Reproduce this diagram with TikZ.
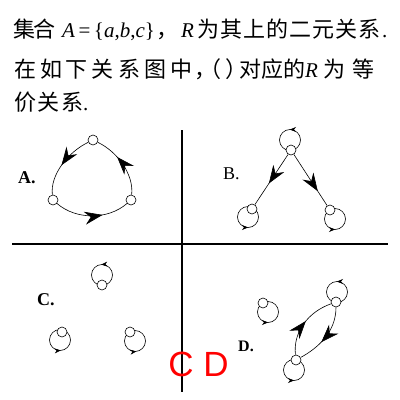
\documentclass[tikz,border=0pt]{standalone}
\usepackage{fontspec}
\setmainfont{Liberation Serif}
\newfontfamily\cjk{Noto Sans CJK SC}
\newfontfamily\redfont{Liberation Sans}
\usetikzlibrary{arrows.meta,decorations.markings,calc,backgrounds}
\begin{document}
\begin{tikzpicture}[x=1pt,y=-1pt,
  vtx/.style={circle,draw,fill=white,inner sep=0pt,minimum size=10pt,line width=0.6pt},
  edgeline/.style={line width=0.6pt},
  bigtip/.style={postaction={decorate},decoration={markings,mark=at position #1 with {\arrow{Stealth[length=18pt,width=13pt,inset=6pt]}}}},
  loopc/.style={line width=0.6pt,postaction={decorate},decoration={markings,mark=at position #1 with {\arrowreversed{Stealth[length=6pt,width=5pt]}}}},
  cj/.style={anchor=base,inner sep=0pt,font=\cjk\fontsize{22}{22}\selectfont},
  rm/.style={anchor=base west,inner sep=0pt,font=\fontsize{21}{21}\selectfont},
  lab/.style={anchor=base west,inner sep=0pt,font=\fontsize{18}{18}\selectfont\bfseries},
  divider/.style={line width=1.3pt},
]
\useasboundingbox (0,0) rectangle (400,400);

% ---- text ----
\foreach \x/\c in {24/集,45/合,167/，,208.5/为,231.5/其,254.5/上,277.5/的,300.5/二,323.5/元,346.5/关,369.5/系}
  \node[cj] at (\x,37) {\c};
\node[rm] (mathA) at (62,37) {\textit{A}\,=\,\{\textit{a},\textit{b},\textit{c}\}};
\node[rm] (r1) at (181,37) {\textit{R}};
\node[rm] (dot1) at (382,37) {.};

\foreach \x/\c in {25/在,51/如,77/下,103/关,129/系,155/图,181/中,205/，,210/（,236.5/）,250/对,272/应,294/的,334/为,363/等}
  \node[cj] at (\x,77) {\c};
\node[rm] (r2) at (305,77) {\textit{R}};

\foreach \x/\c in {25/价,48.5/关,72/系}
  \node[cj] at (\x,110.5) {\c};
\node[rm] (dot3) at (83,110.5) {.};

% ---- dividers ----
\coordinate (hl) at (12,244);
\coordinate (hr) at (388,244);
\coordinate (vt) at (182,130);
\coordinate (vb) at (182,392);
\draw[divider] (hl) -- (hr);
\draw[divider] (vt) -- (vb);

% ---- labels ----
\node[lab] (labA) at (18,183) {A.};
\node[lab,font=\fontsize{18}{18}\selectfont] (labB) at (223,179) {B.};
\node[lab] (labC) at (37,305) {C.};
\node[lab,font=\fontsize{16}{16}\selectfont\bfseries] (labD) at (238,351) {D.};

% ---- panel A ----
\node[vtx] (aT) at (93,140) {};
\node[vtx] (aL) at (53,200) {};
\node[vtx] (aR) at (131,200) {};
\draw[edgeline,bigtip=0.53] (aT) .. controls ($(aT)+(-25,12)$) and ($(aL)+(-3,-25)$) .. (aL);
\draw[edgeline,bigtip=0.64] (aL) .. controls ($(aL)+(23,20)$) and ($(aR)+(-23,20)$) .. (aR);
\draw[edgeline,bigtip=0.63] (aR) .. controls ($(aR)+(3,-25)$) and ($(aT)+(25,12)$) .. (aT);

% ---- panel B ----
\node[vtx] (bT) at (291,150) {};
\node[vtx] (bL) at (252,209) {};
\node[vtx] (bR) at (330,210) {};
\draw[edgeline,bigtip=0.58] (bT) -- (bL);
\draw[edgeline,bigtip=0.72] (bT) -- (bR);

% ---- panel C ----
\node[vtx] (cT) at (102,285) {};
\node[vtx] (cL) at (62,332) {};
\node[vtx] (cR) at (130,332) {};

% ---- panel D ----
\node[vtx] (dI) at (263,303) {};
\node[vtx] (dT) at (336,302) {};
\node[vtx] (dB) at (296,360) {};
\draw[edgeline,bigtip=0.54] (dB) .. controls ($(dB)+(-3,-28)$) and ($(dT)+(-28,10)$) .. (dT);
\draw[edgeline,bigtip=0.6] (dT) .. controls ($(dT)+(0,30)$) and ($(dB)+(22,-12)$) .. (dB);

% ---- loops ----
\begin{scope}[on background layer]
  \draw[loopc=0.75] ($(bT)+(-1,-10)$) circle[radius=10.5];
  \draw[loopc=0.25] ($(bL)+(-4,8)$) circle[radius=10.5];
  \draw[loopc=0.25] ($(bR)+(5,9)$) circle[radius=10.5];
  \draw[loopc=0.74] ($(cT)+(0,-10)$) circle[radius=10.5];
  \draw[loopc=0.24] ($(cL)+(-2,8)$) circle[radius=10.5];
  \draw[loopc=0.23] ($(cR)+(5,9)$) circle[radius=10.5];
  \draw[loopc=0.25] ($(dI)+(5,9)$) circle[radius=10.5];
  \draw[loopc=0.75] ($(dT)+(1,-10)$) circle[radius=10.5];
  \draw[loopc=0.25] ($(dB)+(-2,10)$) circle[radius=10.5];
\end{scope}

% ---- red letters ----
\node[anchor=base,inner sep=0pt,text=red,font=\redfont\fontsize{35}{35}\selectfont] (cd) at (198.5,376) {C D};
\end{tikzpicture}
\end{document}
